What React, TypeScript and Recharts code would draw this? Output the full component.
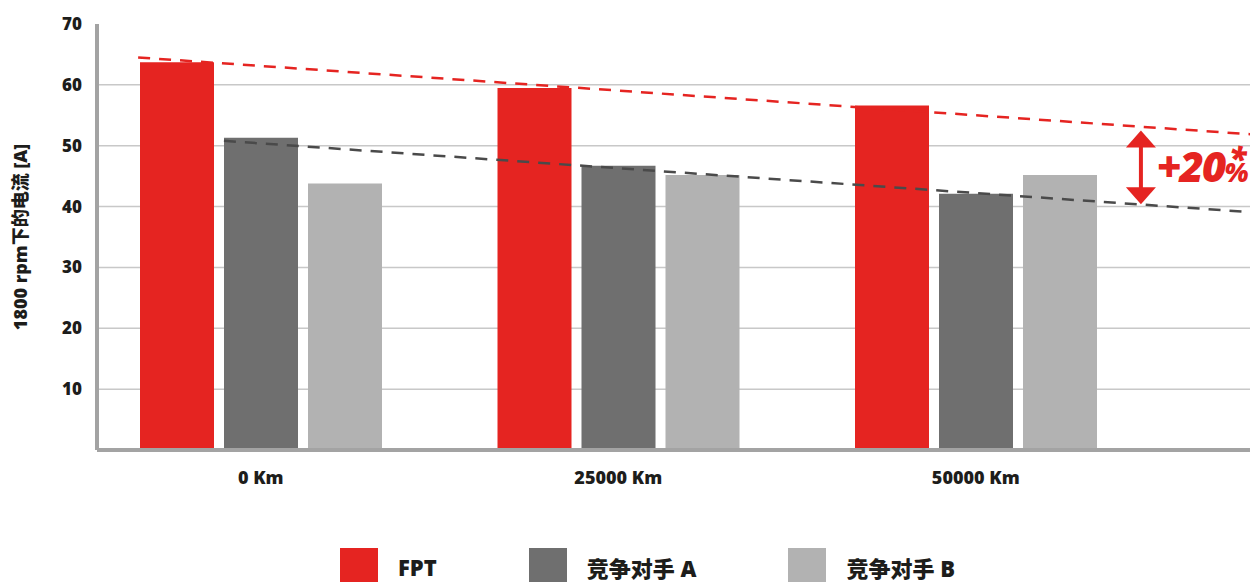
import React from 'react';
import {
  ComposedChart,
  Bar,
  XAxis,
  YAxis,
  CartesianGrid,
  Legend,
  ReferenceLine,
} from 'recharts';

// ---- data ----
const categories = ['0 Km', '25000 Km', '50000 Km'];
const fptValues = [63.7, 59.5, 56.6];
const rivalAValues = [51.3, 46.7, 42.1];
const rivalBValues = [43.8, 45.2, 45.2];
const seriesNames = ['FPT', '竞争对手 A', '竞争对手 B'];
const seriesColors = ['#e52421', '#6f6f6f', '#b2b2b2'];
const yTicks = [10, 20, 30, 40, 50, 60, 70];
const gridValues = [10, 20, 30, 40, 50, 60];
const yLabel = '1800 rpm下的电流 [A]';

// trend lines, x in category-index units (0 = first category centre)
const fptTrend = [
  { x: -0.343, y: 64.5 },
  { x: 2.789, y: 51.8 },
];
const rivalTrend = [
  { x: -0.103, y: 50.8 },
  { x: 2.789, y: 39.0 },
];
const gainArrow = [
  { x: 2.462, y: 52.5 },
  { x: 2.462, y: 40.4 },
];
const gainText = '+20';

const data = categories.map((name, i) => ({
  name,
  pos: i,
  fpt: fptValues[i],
  rivalA: rivalAValues[i],
  rivalB: rivalBValues[i],
}));

const FONT = "'Open Sans', 'Noto Sans CJK SC', sans-serif";
const RED = '#e52421';

const ArrowShape = (props: any) => {
  const { x1, y1, y2 } = props;
  const top = Math.min(y1, y2);
  const bot = Math.max(y1, y2);
  const hw = 15;
  const hh = 17;
  const mid = (top + bot) / 2;
  return (
    <g>
      <line x1={x1} x2={x1} y1={top + hh - 1} y2={bot - hh + 1} stroke={RED} strokeWidth={4} />
      <polygon points={`${x1},${top} ${x1 - hw},${top + hh} ${x1 + hw},${top + hh}`} fill={RED} />
      <polygon points={`${x1},${bot} ${x1 - hw},${bot - hh} ${x1 + hw},${bot - hh}`} fill={RED} />
      <text
        x={x1 + 16}
        y={mid + 15}
        fill={RED}
        fontFamily={FONT}
        fontWeight={800}
        fontStyle="italic"
        fontSize={42}
        letterSpacing={-2}
      >
        {gainText}
        <tspan fontSize={26} letterSpacing={0}>%</tspan>
      </text>
      <text
        x={x1 + 88}
        y={mid + 3}
        fill={RED}
        fontFamily={FONT}
        fontWeight={800}
        fontStyle="italic"
        fontSize={32}
      >
        *
      </text>
    </g>
  );
};

const LegendContent = (props: any) => {
  const { payload } = props;
  return (
    <div
      style={{
        display: 'flex',
        alignItems: 'center',
        paddingLeft: 332,
        height: 40,
        fontFamily: FONT,
      }}
    >
      {(payload || []).map((p: any, i: number) => (
        <div key={i} style={{ display: 'flex', alignItems: 'center', marginRight: 92 }}>
          <div style={{ width: 38, height: 38, background: p.color, marginRight: 20 }} />
          <span style={{ fontSize: 22, fontWeight: 800, color: '#1d1d1b' }}>{p.value}</span>
        </div>
      ))}
    </div>
  );
};

const tickStyle = { fill: '#1d1d1b', fontSize: 17, fontWeight: 800, fontFamily: FONT };

export default function App() {
  return (
    <div style={{ width: 1250, height: 579 }}>
      <ComposedChart
        width={1250}
        height={579}
        data={data}
        margin={{ top: 16, right: 0, bottom: 0, left: 0 }}
        barGap={10}
        barSize={74}
      >
        <CartesianGrid
          xAxisId="cat"
          vertical={false}
          horizontalValues={gridValues}
          stroke="#c8c8c8"
          strokeWidth={1.5}
        />
        <XAxis
          xAxisId="cat"
          dataKey="name"
          type="category"
          padding={{ left: -15, right: 103.5 }}
          height={97}
          axisLine={{ stroke: '#a3a3a3', strokeWidth: 4 }}
          tickLine={false}
          tickSize={0}
          tickMargin={21}
          tick={{ ...tickStyle, fontSize: 18 }}
        />
        <XAxis
          xAxisId="trend"
          dataKey="pos"
          type="number"
          domain={[0, 2]}
          padding={{ left: 163.75, right: 282.25 }}
          hide
        />
        <YAxis
          type="number"
          domain={[0, 70]}
          ticks={yTicks}
          interval={0}
          width={89}
          axisLine={{ stroke: '#a3a3a3', strokeWidth: 4 }}
          tickLine={false}
          tickSize={0}
          tickMargin={15}
          tick={tickStyle}
          label={{
            value: yLabel,
            angle: -90,
            position: 'center',
            dx: -32,
            style: { fill: '#1d1d1b', fontSize: 18, fontWeight: 800, fontFamily: FONT, textAnchor: 'middle' },
          }}
        />
        <Bar xAxisId="cat" dataKey="fpt" name={seriesNames[0]} fill={seriesColors[0]} isAnimationActive={false} />
        <Bar xAxisId="cat" dataKey="rivalA" name={seriesNames[1]} fill={seriesColors[1]} isAnimationActive={false} />
        <Bar xAxisId="cat" dataKey="rivalB" name={seriesNames[2]} fill={seriesColors[2]} isAnimationActive={false} />
        <ReferenceLine
          xAxisId="trend"
          segment={fptTrend}
          stroke={RED}
          strokeWidth={2.5}
          strokeDasharray="12 9"
          ifOverflow="visible"
        />
        <ReferenceLine
          xAxisId="trend"
          segment={rivalTrend}
          stroke="#4a4a4a"
          strokeWidth={2.5}
          strokeDasharray="12 9"
          ifOverflow="visible"
        />
        <ReferenceLine
          xAxisId="trend"
          segment={gainArrow}
          stroke={RED}
          ifOverflow="visible"
          shape={ArrowShape}
        />
        <Legend verticalAlign="bottom" align="left" content={LegendContent} />
      </ComposedChart>
    </div>
  );
}
